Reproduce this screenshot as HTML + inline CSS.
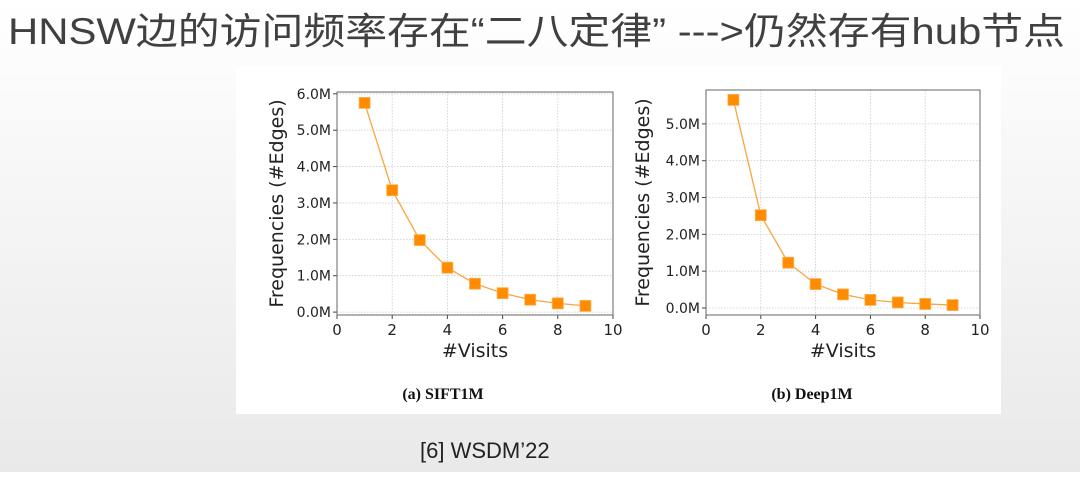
<!DOCTYPE html>
<html><head><meta charset="utf-8"><style>
html,body{margin:0;padding:0;}
body{width:1080px;height:472px;overflow:hidden;background:linear-gradient(#ffffff 0%,#f6f6f6 40%,#e9e9e9 100%);font-family:"Liberation Sans","Noto Sans CJK SC",sans-serif;}
</style></head><body>
<svg id="s" width="1080" height="472" xmlns="http://www.w3.org/2000/svg">
<text x="8" y="44" font-size="37" fill="#404040" textLength="1057" lengthAdjust="spacingAndGlyphs" font-family="Liberation Sans, Noto Sans CJK SC, sans-serif">HNSW边的访问频率存在“二八定律” ---&gt;仍然存有hub节点</text>
<rect x="236" y="66" width="765" height="348" fill="#ffffff"/>
<g id="c1"></g>
<g id="c2"></g>
<text x="443" y="399" font-size="16" font-weight="bold" text-anchor="middle" font-family="Liberation Serif, serif" fill="#111">(a) SIFT1M</text>
<text x="812" y="399" font-size="16" font-weight="bold" text-anchor="middle" font-family="Liberation Serif, serif" fill="#111">(b) Deep1M</text>
<text x="420" y="458" font-size="22" fill="#222">[6] WSDM’22</text>
</svg>
<script>
const visits = [1,2,3,4,5,6,7,8,9];
const siftValues = [5.75,3.35,1.98,1.22,0.78,0.52,0.34,0.24,0.17];
const deepValues = [5.65,2.52,1.23,0.65,0.37,0.22,0.15,0.11,0.08];
const xTicks = [0,2,4,6,8,10];
const siftYTicks = [0,1,2,3,4,5,6];
const deepYTicks = [0,1,2,3,4,5];
const NS='http://www.w3.org/2000/svg';
function mk(p,t,a){const e=document.createElementNS(NS,t);for(const k in a)e.setAttribute(k,a[k]);p.appendChild(e);return e;}
function draw(g,L,R,T,B,ymin,ymax,vals,yt,key){
  const xs=v=>L+(v-0)/10*(R-L), ys=v=>B-(v-ymin)/(ymax-ymin)*(B-T);
  mk(g,'rect',{x:L,y:T,width:R-L,height:B-T,fill:'#fff'});
  xTicks.forEach(t=>{
    const l=mk(g,'line',{x1:xs(t),x2:xs(t),y1:T,y2:B,stroke:'#ccc','stroke-dasharray':'1.5,1.5','stroke-width':0.8});
    
    
    mk(g,'line',{x1:xs(t),x2:xs(t),y1:B,y2:B+4,stroke:'#444'});
    const tx=mk(g,'text',{x:xs(t),y:B+20,'font-size':15,'text-anchor':'middle',fill:'#222','font-family':'DejaVu Sans, sans-serif'});
    tx.textContent=t;
    
    
  });
  yt.forEach(t=>{
    const l=mk(g,'line',{x1:L,x2:R,y1:ys(t),y2:ys(t),stroke:'#ccc','stroke-dasharray':'1.5,1.5','stroke-width':0.8});
    
    
    mk(g,'line',{x1:L-4,x2:L,y1:ys(t),y2:ys(t),stroke:'#444'});
    const tx=mk(g,'text',{x:L-6,y:ys(t)+5,'font-size':14,'text-anchor':'end',fill:'#222','font-family':'DejaVu Sans, sans-serif'});
    tx.textContent=t.toFixed(1)+'M';
    
    
  });
  mk(g,'rect',{x:L,y:T,width:R-L,height:B-T,fill:'none',stroke:'#666','stroke-width':1});
  const line=mk(g,'polyline',{points:visits.map((v,i)=>xs(v)+','+ys(vals[i])).join(' '),fill:'none',stroke:'#f7a640','stroke-width':1.3});
  
  
  visits.forEach((v,i)=>{
    const r=mk(g,'rect',{x:xs(v)-5.5,y:ys(vals[i])-5.5,width:11,height:11,fill:'#ff8c00',stroke:'#ffb050','stroke-width':0.8});
    
    
  });
  const xl=mk(g,'text',{x:(L+R)/2,y:B+42,'font-size':19,'text-anchor':'middle',fill:'#222','font-family':'DejaVu Sans, sans-serif'});
  xl.textContent='#Visits';
  
  
  const cy=(T+B)/2, cx=L-(key==='sift'?54:57);
  const yl=mk(g,'text',{x:cx,y:cy,'font-size':19,'text-anchor':'middle',fill:'#222','font-family':'DejaVu Sans, sans-serif',transform:'rotate(-90 '+cx+' '+cy+')'});
  yl.textContent='Frequencies (#Edges)';
  
  
}
draw(document.getElementById('c1'),337,613,92,315,-0.08,6.05,siftValues,siftYTicks,'sift');
draw(document.getElementById('c2'),706,980,90,315,-0.19,5.92,deepValues,deepYTicks,'deep');
</script>
</body></html>
